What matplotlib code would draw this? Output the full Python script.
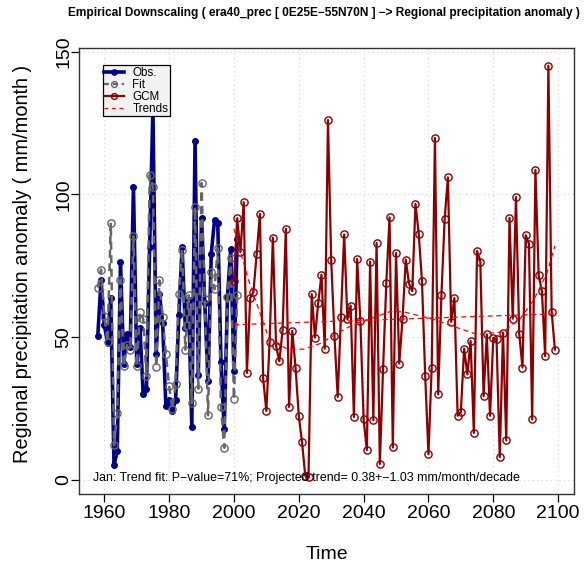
import matplotlib
matplotlib.use("Agg")
import matplotlib.pyplot as plt
from matplotlib.lines import Line2D

plt.rcParams['font.family'] = ['Liberation Sans', 'DejaVu Sans']

# Observed January precipitation anomaly and the downscaled fit (1958-2001)
obs_years = list(range(1958, 2002))
obs = [50.5, 69.9, 54.4, 48.1, 63.9, 5.2, 10.1, 76.3, 40.8, 51.3,
       46.6, 102.8, 40.8, 53.4, 30.0, 32.0, 81.6, 130.0, 44.3, 65.3,
       55.0, 25.9, 28.0, 24.2, 28.0, 57.7, 81.6, 53.3, 62.9, 18.6,
       118.9, 36.7, 91.8, 62.0, 34.7, 79.3, 90.9, 90.0, 41.2, 17.7,
       64.1, 80.8, 38.1, 84.5]
fit = [67.4, 73.7, 57.5, 48.3, 90.1, 12.2, 23.3, 70.2, 40.0, 47.2,
       45.7, 85.4, 39.9, 58.9, 56.5, 36.4, 106.9, 102.6, 39.6, 69.9,
       57.2, 44.1, 32.9, 24.7, 33.8, 65.3, 80.7, 45.7, 64.7, 26.8,
       95.6, 32.0, 104.0, 63.5, 22.7, 72.8, 66.8, 81.2, 25.6, 11.3,
       64.0, 77.9, 28.2, 64.7]

# Downscaled GCM projection (2000-2099)
gcm_years = list(range(2000, 2100))
gcm = [69.6, 91.7, 79.8, 97.3, 37.5, 63.7, 65.8, 79.0, 93.2, 35.6,
       24.2, 48.4, 84.9, 46.9, 41.6, 52.4, 88.0, 25.6, 52.2, 39.4,
       22.5, 13.2, 1.5, 1.0, 65.1, 49.9, 62.1, 71.9, 46.0, 126.1,
       77.0, 50.5, 29.1, 57.1, 86.0, 56.3, 61.1, 22.1, 77.4, 55.7,
       21.2, 10.5, 76.5, 21.0, 83.0, 5.6, 39.0, 69.1, 92.0, 11.4,
       79.5, 40.8, 56.5, 77.2, 68.8, 66.2, 96.7, 86.2, 69.7, 36.5,
       9.0, 39.4, 119.8, 30.0, 64.7, 91.5, 106.0, 55.4, 63.7, 22.5,
       23.9, 46.0, 37.0, 48.7, 16.5, 80.2, 76.5, 29.4, 51.0, 22.5,
       49.8, 49.3, 8.0, 51.6, 13.9, 91.8, 56.5, 99.1, 51.3, 39.4,
       85.7, 82.8, 21.2, 108.6, 71.7, 66.1, 43.4, 145.1, 59.0, 45.7]

# Trend lines: polynomial trend and linear trend of the projection
poly_years = [2000, 2004.5, 2009, 2011, 2016.3, 2021.4, 2026.6, 2031.7,
              2036.9, 2042, 2048.2, 2052.3, 2061.5, 2066.7, 2074.9,
              2083.1, 2088.3, 2092.4, 2096.5, 2098.6, 2099]
poly_trend = [88, 70, 55.3, 49, 46, 45.8, 47.8, 51.3,
              54.5, 56.5, 59, 58.9, 56.3, 54.2, 51,
              51.9, 56.5, 62.9, 72.3, 80.4, 82]
lin_years = [2000, 2099]
lin_trend = [54.4, 58.2]

title = ("Empirical Downscaling ( era40_prec [ 0E25E\u221255N70N ] "
         "\u2212> Regional precipitation anomaly )")
note = ("Jan: Trend fit: P\u2212value=71%; Projected trend= "
        "0.38+\u22121.03 mm/month/decade")
x_ticks = [1960, 1980, 2000, 2020, 2040, 2060, 2080, 2100]
y_ticks = [0, 50, 100, 150]

obs_col = "#00008B"
fit_col = "#666666"
gcm_col = "#8B0000"
trend_col = "#FF0000"

fig = plt.figure(figsize=(5.85, 5.69), dpi=100)
ax = fig.add_axes([0.1356, 0.1318, 0.8456, 0.7838])

ax.set_xlim(1952.3, 2104.9)
ax.set_ylim(-4.9, 151.3)

for xt in x_ticks:
    ax.axvline(xt, color="#d3d3d3", lw=0.8, ls=(0, (1, 3)), zorder=0)
for yt in y_ticks:
    ax.axhline(yt, color="#d3d3d3", lw=0.8, ls=(0, (1, 3)), zorder=0)

ax.plot(obs_years, obs, color=obs_col, lw=2.6, marker="o", ms=4,
        mfc=obs_col, mec=obs_col, zorder=3)
ax.plot(obs_years, fit, color=fit_col, lw=1.8, dashes=(3.2, 2.2),
        marker="o", ms=5.2, mfc="none", mec=fit_col, mew=1.0, zorder=4)
ax.plot(gcm_years, gcm, color=gcm_col, lw=1.6, marker="o", ms=5.2,
        mfc="none", mec=gcm_col, mew=1.0, zorder=5)
ax.plot(poly_years, poly_trend, color=trend_col, lw=0.9, dashes=(4, 3),
        zorder=6)
ax.plot(lin_years, lin_trend, color=trend_col, lw=0.9, dashes=(4, 3),
        zorder=6)

ax.text(1956.5, 0.6, note, fontsize=8.9, va="center", ha="left", zorder=7)

ax.set_xticks(x_ticks)
ax.set_yticks(y_ticks)
ax.tick_params(axis="both", direction="out", length=6, width=0.9,
               labelsize=14)
ax.tick_params(axis="x", pad=2)
ax.tick_params(axis="y", pad=-1)
for lbl in ax.get_yticklabels():
    lbl.set_rotation(90)
    lbl.set_va("center")
for sp in ax.spines.values():
    sp.set_color("#333333")
    sp.set_linewidth(1.0)

ax.set_xlabel("Time", fontsize=14)
ax.xaxis.set_label_coords(0.5, -0.135)
ax.xaxis.label.set_va("center")
ax.set_ylabel("Regional precipitation anomaly ( mm/month )", fontsize=14.4)
ax.yaxis.set_label_coords(-0.114, 0.515)
ax.yaxis.label.set_va("center")
ax.yaxis.label.set_ha("center")

fig.text(0.553, 0.977, title, fontsize=8.6, fontweight="bold",
         ha="center", va="center")

handles = [
    Line2D([], [], color=obs_col, lw=2.6, marker="o", ms=3.8),
    Line2D([], [], color=fit_col, lw=1.6, dashes=(2.2, 1.8), marker="o",
           ms=4.2, mfc="none"),
    Line2D([], [], color=gcm_col, lw=1.6, marker="o", ms=4.2, mfc="none"),
    Line2D([], [], color=trend_col, lw=0.9, dashes=(3, 3)),
]
leg = ax.legend(handles, ["Obs.", "Fit", "GCM", "Trends"],
                loc="upper left", bbox_to_anchor=(0.047, 0.962),
                fontsize=8.4, frameon=True, fancybox=False,
                framealpha=1.0, facecolor="#f2f2f2", edgecolor="black",
                handlelength=1.7, handletextpad=0.7, labelspacing=0.0,
                borderpad=0.15, borderaxespad=0.0)
leg.get_frame().set_linewidth(0.9)
leg.set_zorder(10)

fig.savefig("out.png", dpi=100)
